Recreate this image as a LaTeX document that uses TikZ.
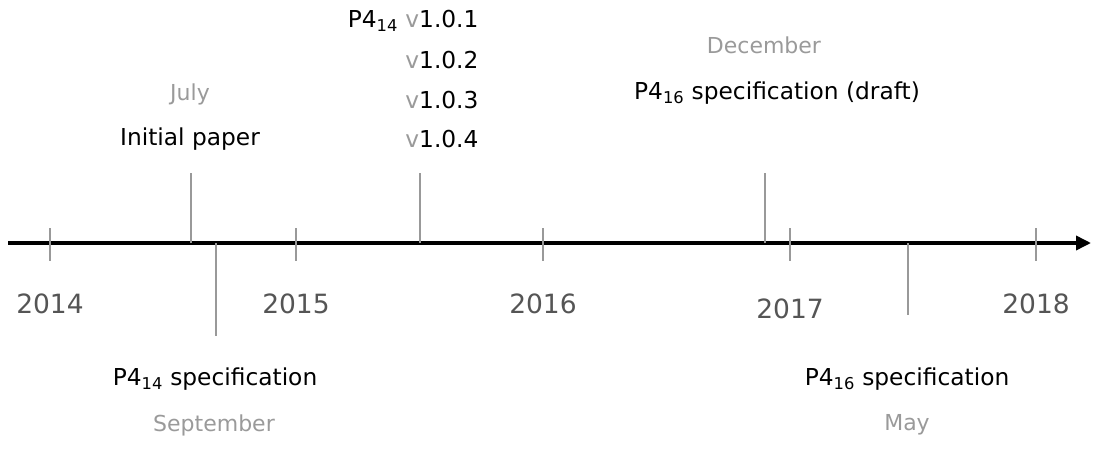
\documentclass[tikz,border=0pt]{standalone}
\usepackage{fontspec}
\setmainfont{DejaVu Sans}
\usetikzlibrary{arrows.meta,positioning}
\definecolor{yeargray}{HTML}{555555}
\definecolor{monthgray}{HTML}{9A9A9A}
\definecolor{tickgray}{HTML}{999999}

\begin{document}
\begin{tikzpicture}[
    x=1pt, y=-1pt,
    year/.style={text=yeargray, font=\fontsize{26.5}{31}\selectfont},
    month/.style={text=monthgray, font=\fontsize{22}{26}\selectfont},
    event/.style={font=\fontsize{23.3}{28}\selectfont},
    yeartick/.style={draw=tickgray, line width=1.6pt},
    marker/.style={draw=tickgray, line width=1.6pt},
    axis/.style={-{Triangle[length=15pt,width=14pt]}, line width=3.5pt}
]
\useasboundingbox (0,0) rectangle (1107,449);

% Timeline axis
\coordinate (start) at (8,243);
\coordinate (end) at (1091,243);
\draw[axis] (start) -- (end);

% Year ticks and labels
\foreach \yr/\xx/\dy in {2014/50/0, 2015/296/0, 2016/543/0, 2017/790/5, 2018/1036/0} {
  \coordinate (t\yr a) at (\xx,228);
  \coordinate (t\yr b) at (\xx,261);
  \draw[yeartick] (t\yr a) -- (t\yr b);
  \node[year, below=29pt of t\yr b, yshift=-\dy pt] (y\yr) {\yr};
}

% July 2014: initial paper
\coordinate (jul14) at (191,243);
\coordinate (jul14top) at (191,173);
\draw[marker] (jul14) -- (jul14top);
\node[event] (paper) at (190,139) {Initial paper};
\node[month] (july) at (190,94) {July};

% September 2014: P4_14 specification
\coordinate (sep14) at (216,243);
\coordinate (sep14bot) at (216,336);
\draw[marker] (sep14) -- (sep14bot);
\node[event] (spec14) at (215,379) {P4\textsubscript{14} specification};
\node[month] (sept) at (214,425) {September};

% 2015: P4_14 revisions
\coordinate (rev15) at (420,243);
\coordinate (rev15top) at (420,173);
\draw[marker] (rev15) -- (rev15top);
\node[event, anchor=east] (v1) at (482,21) {P4\textsubscript{14} \textcolor{monthgray}{v}1.0.1};
\node[event, anchor=east] (v2) at (482,60) {\textcolor{monthgray}{v}1.0.2};
\node[event, anchor=east] (v3) at (482,100) {\textcolor{monthgray}{v}1.0.3};
\node[event, anchor=east] (v4) at (482,139) {\textcolor{monthgray}{v}1.0.4};

% December 2016: P4_16 draft
\coordinate (dec16) at (765,243);
\coordinate (dec16top) at (765,173);
\draw[marker] (dec16) -- (dec16top);
\node[event] (draft16) at (777,93) {P4\textsubscript{16} specification (draft)};
\node[month] (dec) at (764,45) {December};

% May 2017: P4_16 specification
\coordinate (may17) at (908,243);
\coordinate (may17bot) at (908,315);
\draw[marker] (may17) -- (may17bot);
\node[event] (spec16) at (907,379) {P4\textsubscript{16} specification};
\node[month] (may) at (907,425) {May};

\end{tikzpicture}
\end{document}
